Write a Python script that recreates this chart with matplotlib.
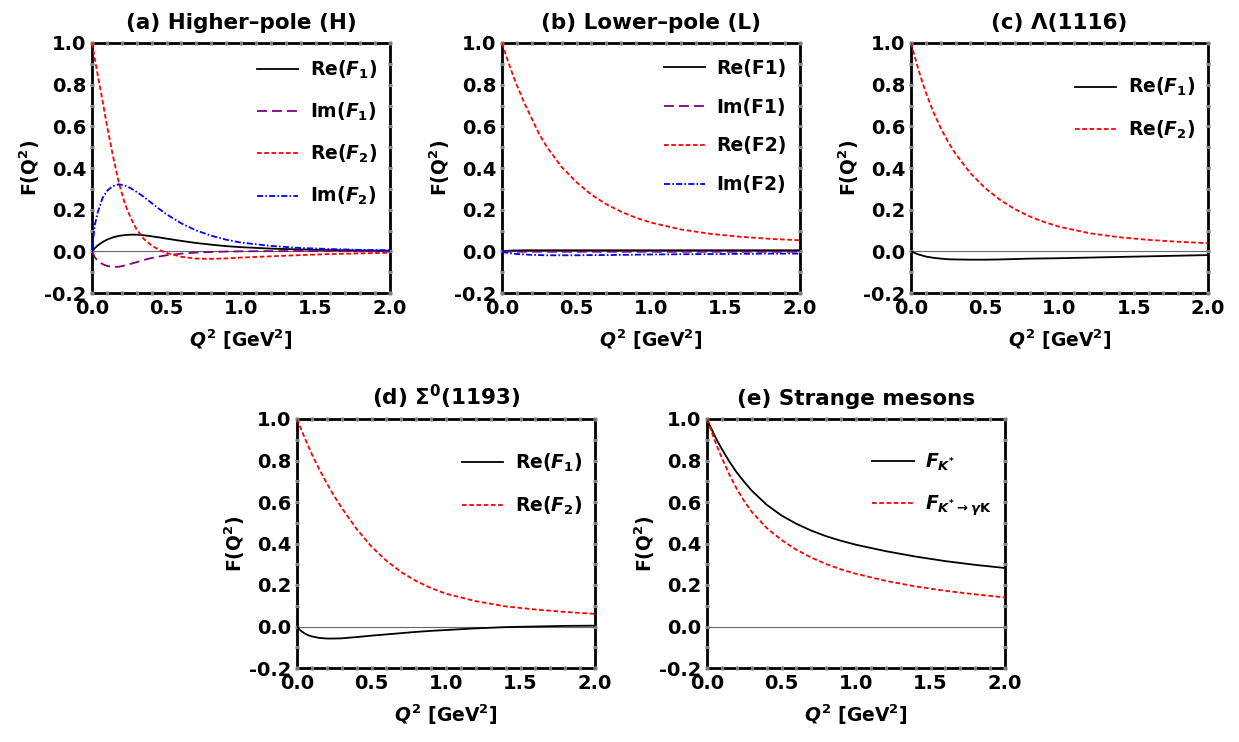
import matplotlib
matplotlib.use('Agg')
import matplotlib.pyplot as plt
from matplotlib.ticker import MultipleLocator, FormatStrFormatter

plt.rcParams['font.family'] = ['DejaVu Sans']
plt.rcParams['font.weight'] = 'bold'
plt.rcParams['axes.labelweight'] = 'bold'
plt.rcParams['axes.titleweight'] = 'bold'
plt.rcParams['mathtext.fontset'] = 'custom'
plt.rcParams['mathtext.rm'] = 'DejaVu Sans:bold'
plt.rcParams['mathtext.it'] = 'DejaVu Sans:italic:bold'
plt.rcParams['mathtext.bf'] = 'DejaVu Sans:bold'
plt.rcParams['mathtext.sf'] = 'DejaVu Sans:bold'

# panel (a): higher pole
q_a = [0, 0.02, 0.04, 0.07, 0.1, 0.14, 0.18, 0.22, 0.26, 0.3, 0.35, 0.4, 0.45,
       0.5, 0.6, 0.7, 0.8, 0.9, 1.0, 1.2, 1.4, 1.6, 1.8, 2.0]
a_re_f1 = [0, 0.016, 0.029, 0.044, 0.056, 0.067, 0.074, 0.078, 0.08, 0.08, 0.077, 0.072,
           0.067, 0.061, 0.05, 0.04, 0.032, 0.025, 0.02, 0.013, 0.009, 0.006, 0.004, 0.003]
a_im_f1 = [0, -0.03, -0.046, -0.061, -0.07, -0.075, -0.074, -0.068, -0.06, -0.052, -0.041,
           -0.032, -0.025, -0.019, -0.011, -0.006, -0.003, -0.001, 0.0, 0.001, 0.001, 0.001, 0.0, 0.0]
a_re_f2 = [1.0, 0.92, 0.84, 0.725, 0.605, 0.46, 0.33, 0.23, 0.16, 0.105, 0.058, 0.028, 0.007,
           -0.008, -0.026, -0.035, -0.036, -0.034, -0.03, -0.024, -0.018, -0.013, -0.01, -0.007]
a_im_f2 = [0.01, 0.13, 0.19, 0.255, 0.29, 0.313, 0.322, 0.316, 0.303, 0.285, 0.26, 0.232, 0.204,
           0.178, 0.134, 0.1, 0.075, 0.056, 0.042, 0.026, 0.016, 0.011, 0.007, 0.005]

# panels (b)-(e) share one Q^2 grid
q = [0, 0.025, 0.05, 0.075, 0.1, 0.15, 0.2, 0.25, 0.3, 0.4, 0.5, 0.6, 0.7, 0.8, 0.9, 1.0,
     1.2, 1.4, 1.6, 1.8, 2.0]

b_re_f1 = [0, 0.002, 0.003, 0.004, 0.004, 0.005, 0.005, 0.005, 0.005, 0.005, 0.005, 0.005,
           0.005, 0.005, 0.005, 0.005, 0.005, 0.005, 0.005, 0.005, 0.005]
b_im_f1 = [0, -0.001, -0.001, -0.002, -0.002, -0.002, -0.002, -0.002, -0.002, -0.002, -0.002,
           -0.002, -0.002, -0.002, -0.002, -0.002, -0.002, -0.002, -0.002, -0.002, -0.002]
b_re_f2 = [1.0, 0.945, 0.893, 0.843, 0.797, 0.712, 0.637, 0.562, 0.502, 0.405, 0.332, 0.272,
           0.226, 0.19, 0.161, 0.138, 0.105, 0.084, 0.07, 0.06, 0.053]
b_im_f2 = [-0.002, -0.006, -0.009, -0.011, -0.013, -0.015, -0.017, -0.018, -0.019, -0.019,
           -0.019, -0.018, -0.018, -0.017, -0.016, -0.015, -0.014, -0.013, -0.012, -0.011, -0.011]

c_re_f1 = [0, -0.008, -0.015, -0.02, -0.025, -0.031, -0.035, -0.038, -0.039, -0.04, -0.04,
           -0.039, -0.037, -0.035, -0.034, -0.033, -0.03, -0.027, -0.024, -0.021, -0.018]
c_re_f2 = [1.0, 0.935, 0.873, 0.815, 0.762, 0.67, 0.592, 0.525, 0.468, 0.375, 0.303, 0.247,
           0.202, 0.167, 0.14, 0.118, 0.087, 0.068, 0.055, 0.046, 0.039]

d_re_f1 = [0, -0.02, -0.033, -0.042, -0.048, -0.055, -0.058, -0.058, -0.057, -0.051, -0.044,
           -0.038, -0.032, -0.026, -0.021, -0.017, -0.009, -0.003, 0.0, 0.003, 0.004]
d_re_f2 = [1.0, 0.955, 0.912, 0.87, 0.83, 0.757, 0.69, 0.628, 0.572, 0.47, 0.385, 0.317,
           0.262, 0.219, 0.185, 0.158, 0.122, 0.097, 0.082, 0.07, 0.061]

e_fk = [1.0, 0.96, 0.922, 0.887, 0.855, 0.795, 0.742, 0.697, 0.655, 0.587, 0.535, 0.495,
        0.462, 0.435, 0.413, 0.394, 0.363, 0.337, 0.315, 0.297, 0.282]
e_fkgk = [1.0, 0.95, 0.9, 0.855, 0.812, 0.732, 0.663, 0.604, 0.553, 0.475, 0.417, 0.37,
          0.332, 0.301, 0.275, 0.254, 0.22, 0.193, 0.172, 0.155, 0.14]

titles = ['(a) Higher\u2013pole (H)', '(b) Lower\u2013pole (L)', '(c) \u039b(1116)',
          r'(d) $\Sigma^{0}$(1193)', '(e) Strange mesons']

LW = 1.3
styles = {
    'solid': dict(color='black', lw=LW, ls='-'),
    'purple': dict(color='#800080', lw=LW, dashes=(5.5, 2.8)),
    'red': dict(color='#ff0000', lw=LW, dashes=(2.6, 1.4)),
    'blue': dict(color='#0000ff', lw=LW, dashes=(3.4, 1.2, 0.9, 1.2)),
}


def style_axes(ax, title):
    ax.set_xlim(0, 2)
    ax.set_ylim(-0.2, 1.0)
    ax.axhline(0, color='#666666', lw=0.8, zorder=1)
    ax.xaxis.set_major_locator(MultipleLocator(0.5))
    ax.xaxis.set_minor_locator(MultipleLocator(0.1))
    ax.yaxis.set_major_locator(MultipleLocator(0.2))
    ax.yaxis.set_minor_locator(MultipleLocator(0.1))
    ax.xaxis.set_major_formatter(FormatStrFormatter('%.1f'))
    ax.yaxis.set_major_formatter(FormatStrFormatter('%.1f'))
    for which in ('major', 'minor'):
        ax.tick_params(which=which, direction='inout', length=2.6, width=2.2,
                       color='#808080', top=True, right=True)
    ax.tick_params(which='major', labelsize=14, pad=3)
    for sp in ax.spines.values():
        sp.set_linewidth(2.0)
        sp.set_zorder(1.4)
    ax.set_title(title, fontsize=15.5, pad=10)
    ax.set_xlabel(r'$Q^{2}$ [GeV$^{2}$]', fontsize=13.5, labelpad=7)
    ax.set_ylabel(r'F(Q$^{2}$)', fontsize=13.5, labelpad=1)


def add_legend(ax, y):
    ax.legend(loc='upper right', bbox_to_anchor=(1.0, y), frameon=False, fontsize=13.5,
              handlelength=2.2, handletextpad=0.6, labelspacing=1.06, borderaxespad=0.3)


fig = plt.figure(figsize=(12.39, 7.42), dpi=100)
W, H = 1239, 742
ax_a = fig.add_axes([92 / W, (742 - 293) / H, 298 / W, 250 / H])
ax_b = fig.add_axes([502 / W, (742 - 293) / H, 298 / W, 250 / H])
ax_c = fig.add_axes([911 / W, (742 - 293) / H, 297 / W, 250 / H])
ax_d = fig.add_axes([297 / W, (742 - 668) / H, 298 / W, 249 / H])
ax_e = fig.add_axes([707 / W, (742 - 668) / H, 298 / W, 249 / H])

ax_a.plot(q_a, a_re_f1, label=r'Re($F_1$)', **styles['solid'])
ax_a.plot(q_a, a_im_f1, label=r'Im($F_1$)', **styles['purple'])
ax_a.plot(q_a, a_re_f2, label=r'Re($F_2$)', **styles['red'])
ax_a.plot(q_a, a_im_f2, label=r'Im($F_2$)', **styles['blue'])
add_legend(ax_a, 0.99)

ax_b.plot(q, b_re_f1, label='Re(F1)', **styles['solid'])
ax_b.plot(q, b_im_f1, label='Im(F1)', **styles['purple'])
ax_b.plot(q, b_re_f2, label='Re(F2)', **styles['red'])
ax_b.plot(q, b_im_f2, label='Im(F2)', **styles['blue'])
add_legend(ax_b, 0.99)

ax_c.plot(q, c_re_f1, label=r'Re($F_1$)', **styles['solid'])
ax_c.plot(q, c_re_f2, label=r'Re($F_2$)', **styles['red'])
add_legend(ax_c, 0.92)

ax_d.plot(q, d_re_f1, label=r'Re($F_1$)', **styles['solid'])
ax_d.plot(q, d_re_f2, label=r'Re($F_2$)', **styles['red'])
add_legend(ax_d, 0.92)

ax_e.plot(q, e_fk, label=r'$F_{K^{*}}$', **styles['solid'])
ax_e.plot(q, e_fkgk, label=r'$F_{K^{*}\rightarrow\gamma\mathrm{K}}$', **styles['red'])
add_legend(ax_e, 0.92)

for ax, t in zip([ax_a, ax_b, ax_c, ax_d, ax_e], titles):
    style_axes(ax, t)

fig.savefig('out.png', dpi=100)
